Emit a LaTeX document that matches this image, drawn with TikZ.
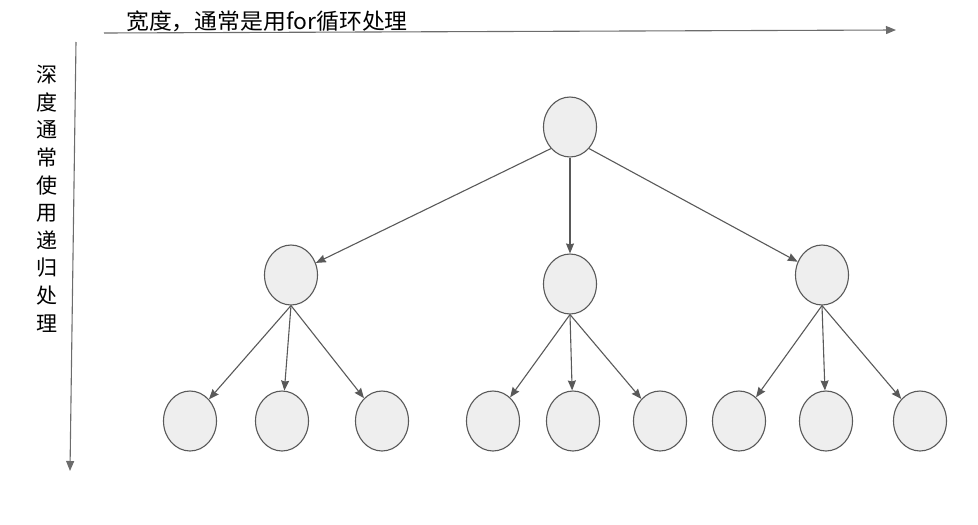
\documentclass[tikz,border=0pt]{standalone}
\usepackage{fontspec}
\newfontfamily\cjk{Noto Sans CJK SC}
\usetikzlibrary{shapes.geometric,arrows.meta}
\definecolor{nodefill}{HTML}{EEEEEE}
\definecolor{linecol}{HTML}{595959}
\begin{document}
\begin{tikzpicture}[x=1pt,y=-1pt,
  tnode/.style={ellipse,draw=linecol,fill=nodefill,line width=1.1pt,minimum width=53pt,minimum height=60pt,inner sep=0pt},
  edge/.style={draw=linecol,line width=1.1pt,-{Stealth[length=10pt,width=8pt,inset=1pt]}},
  axis/.style={draw=gray!85!black,line width=1.1pt,-{Stealth[length=10pt,width=8pt,inset=0pt]}}]
\useasboundingbox (0,0) rectangle (978,525);
% axes
\coordinate (hs) at (104,33);
\coordinate (he) at (896,30);
\coordinate (vs) at (76,42);
\coordinate (ve) at (70,471);
\draw[axis] (hs) -- (he);
\draw[axis] (vs) -- (ve);
\node[font=\cjk\fontsize{22}{26}\selectfont,anchor=west,inner sep=0pt,xscale=1.04] (htext) at (126,21) {宽度，通常是用for循环处理};
\node[font=\cjk\fontsize{21}{27.6}\selectfont,align=center,inner sep=0pt,anchor=north] (vtext) at (47,65) {深\\度\\通\\常\\使\\用\\递\\归\\处\\理};
% tree nodes
\node[tnode] (r) at (570,127) {};
\node[tnode] (a) at (291,275) {};
\node[tnode] (b) at (570,284) {};
\node[tnode] (c) at (822,275) {};
\node[tnode] (a1) at (190,421) {};
\node[tnode] (a2) at (282,421) {};
\node[tnode] (a3) at (382,421) {};
\node[tnode] (b1) at (493,421) {};
\node[tnode] (b2) at (573,421) {};
\node[tnode] (b3) at (660,421) {};
\node[tnode] (c1) at (739,421) {};
\node[tnode] (c2) at (826,421) {};
\node[tnode] (c3) at (920,421) {};
% edges
\draw[edge] (r.south west) -- (a);
\draw[edge] (r.south) -- (b.north);
\draw[edge] (r.south east) -- (c);
\foreach \p/\k in {a/a1,a/a2,a/a3,b/b1,b/b2,b/b3,c/c1,c/c2,c/c3}{
  \draw[edge] (\p.south) -- (\k);
}
\end{tikzpicture}
\end{document}
